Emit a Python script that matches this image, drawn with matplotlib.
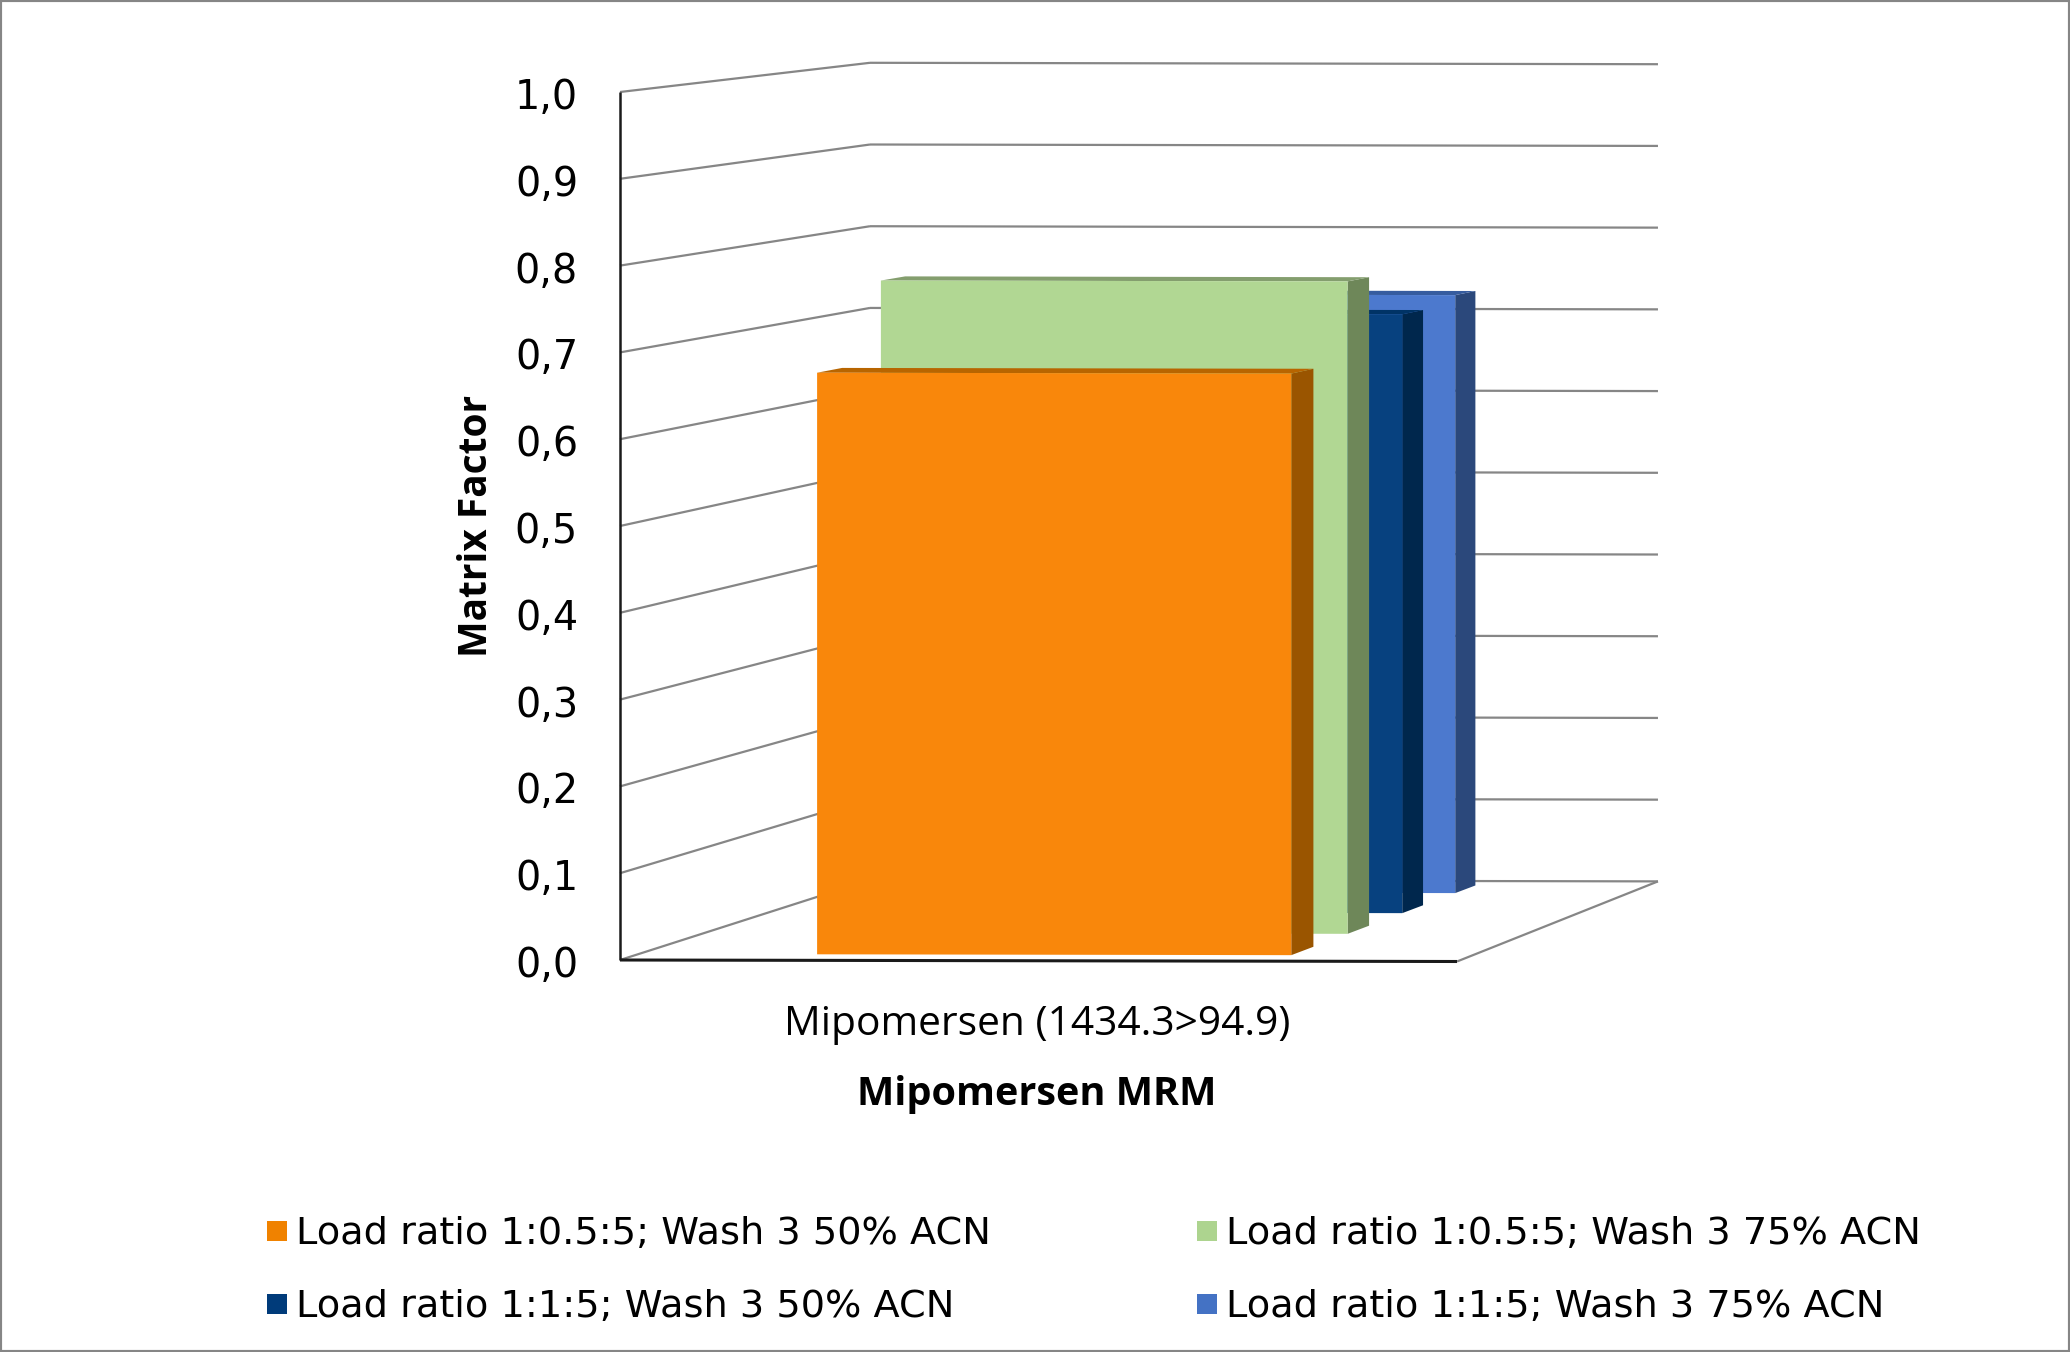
import numpy as np
import matplotlib
matplotlib.use('Agg')
import matplotlib.pyplot as plt
from matplotlib.patches import Polygon, Rectangle

# data
series_names = ['Load ratio 1:0.5:5; Wash 3 50% ACN', 'Load ratio 1:0.5:5; Wash 3 75% ACN',
                'Load ratio 1:1:5; Wash 3 50% ACN', 'Load ratio 1:1:5; Wash 3 75% ACN']
series_values = [0.673, 0.767, 0.715, 0.725]
y_ticks = [0.0, 0.1, 0.2, 0.3, 0.4, 0.5, 0.6, 0.7, 0.8, 0.9, 1.0]
category = 'Mipomersen (1434.3>94.9)'
x_title = 'Mipomersen MRM'
y_title = 'Matrix Factor'

# front / side / top colours for each series
front_colors = ['#F9870B', '#B1D793', '#07417F', '#4C79CE']
side_colors = ['#9A5500', '#6E8759', '#00274D', '#2B487B']
top_colors = ['#B86500', '#849E6E', '#003366', '#365C9F']
legend_colors = ['#F08200', '#ADD48F', '#003B7A', '#4472C4']

GRID = '#868686'
BAR_X0, BAR_X1 = 0.214, 0.783
BAR_DEPTH = 0.1
FIRST_FRONT, DEPTH_STEP = 0.071, 0.257
VERDANA_LIKE = 'DejaVu Sans'


def project(x, y, d):
    # perspective view of the chart box: x along category, y value, d into the page
    w = 1 + 0.0622 * d
    px = (620 + 837 * x + 304.1 * d) / w
    py = (960 + 1.5 * x - 868 * y - 25.3 * d) / w
    return px, py


def line3d(ax, start, end, color=GRID, lw=1.6, z=1):
    p0, p1 = project(*start), project(*end)
    ax.plot([p0[0], p1[0]], [p0[1], p1[1]], color=color, lw=lw, zorder=z, solid_capstyle='butt')


fig = plt.figure(figsize=(20.7, 13.52), dpi=100)
ax = fig.add_axes([0, 0, 1, 1])
ax.set_xlim(0, 2070)
ax.set_ylim(1352, 0)
ax.axis('off')

# walls
for t in y_ticks:
    line3d(ax, (0, t, 0), (0, t, 1))
    line3d(ax, (0, t, 1), (1, t, 1))
    px, py = project(0, t, 0)
    ax.text(578, py + 17, f'{t:.1f}'.replace('.', ','), ha='right', va='baseline',
            fontsize=28.6, color='black', family=VERDANA_LIKE)
line3d(ax, (1, 0, 0), (1, 0, 1))
line3d(ax, (0, 0, 0), (0, 1, 0), color='#1A1A1A', lw=1.8, z=2)
line3d(ax, (0, 0, 0), (1, 0, 0), color='#1A1A1A', lw=2.2, z=2)

# bars, back to front
for i in range(len(series_values) - 1, -1, -1):
    v = series_values[i]
    d0 = FIRST_FRONT + DEPTH_STEP * i
    d1 = d0 + BAR_DEPTH
    z = 5 + (len(series_values) - i)
    side = [project(BAR_X1, 0, d0), project(BAR_X1, 0, d1), project(BAR_X1, v, d1), project(BAR_X1, v, d0)]
    top = [project(BAR_X0, v, d0), project(BAR_X1, v, d0), project(BAR_X1, v, d1), project(BAR_X0, v, d1)]
    front = [project(BAR_X0, 0, d0), project(BAR_X1, 0, d0), project(BAR_X1, v, d0), project(BAR_X0, v, d0)]
    ax.add_patch(Polygon(side, closed=True, facecolor=side_colors[i], edgecolor='none', zorder=z))
    ax.add_patch(Polygon(top, closed=True, facecolor=top_colors[i], edgecolor='none', zorder=z))
    ax.add_patch(Polygon(front, closed=True, facecolor=front_colors[i], edgecolor='none', zorder=z))

# labels
ax.text(1037, 1035, category, ha='center', va='baseline', fontsize=29.3, family='Open Sans')
ax.text(1037, 1105, x_title, ha='center', va='baseline', fontsize=28.5, family='Open Sans', fontweight='bold')
ax.text(487, 526, y_title, ha='center', va='baseline', rotation=90, rotation_mode='anchor',
        fontsize=28, family='Open Sans', fontweight='bold')

# legend
swatch_x = [267, 1197, 267, 1197]
swatch_y = [1221, 1221, 1294, 1294]
for i, name in enumerate(series_names):
    ax.add_patch(Rectangle((swatch_x[i], swatch_y[i]), 20, 20, facecolor=legend_colors[i], edgecolor='none'))
    ax.text(swatch_x[i] + 29, swatch_y[i] + 23, name, ha='left', va='baseline', fontsize=27.5,
            family=VERDANA_LIKE)

# chart border
fig.patches.append(Rectangle((0, 0), 1, 1, transform=fig.transFigure, fill=False,
                             edgecolor=GRID, linewidth=3))

fig.savefig('out.png', dpi=100)
plt.close(fig)
